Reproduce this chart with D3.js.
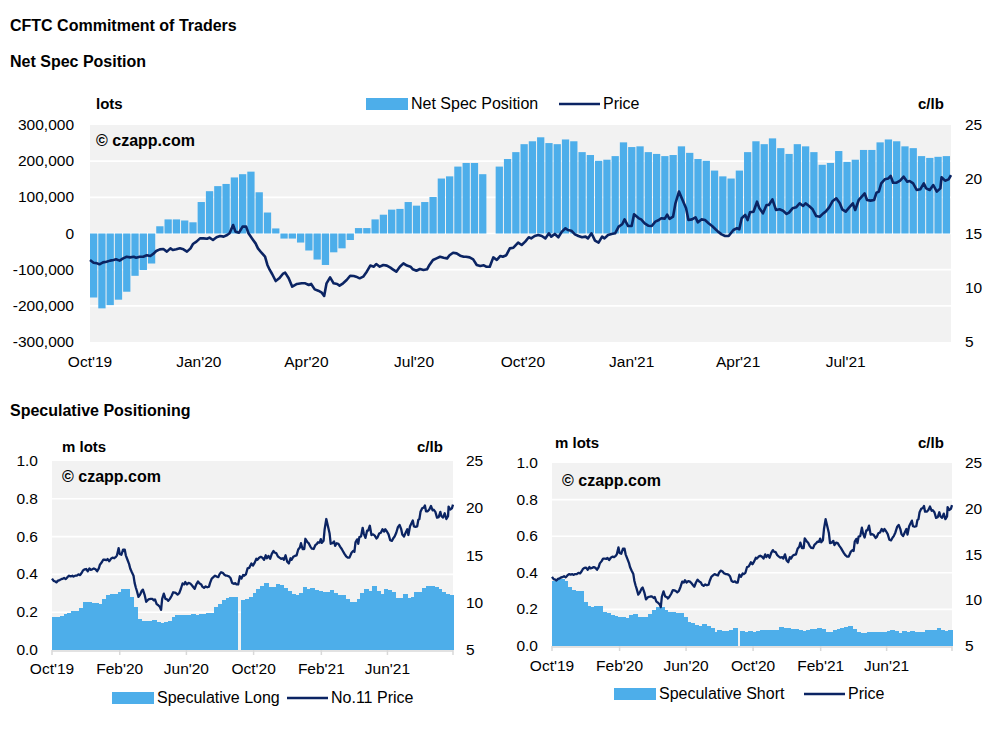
<!DOCTYPE html>
<html><head><meta charset="utf-8">
<script src="https://cdn.jsdelivr.net/npm/d3@7"></script>
<style>body{margin:0;background:#fff;} svg{display:block;font-family:"Liberation Sans",Arial,sans-serif;}</style>
</head><body><svg id="c" width="1008" height="736"></svg>
<script>
// ---------- DATA ----------
const weekStart = "2019-10-01";   // first weekly COT bar (Tuesday)
const domainEnd = "2021-09-28";

// Net speculative position, lots (weekly; null = no report)
const netSpec = [
 -177000,-207000,-198000,-183000,-161000,-117000,-101000,-83000,20000,39000,
 39000,36000,31000,87000,117000,131000,137000,155000,164000,171000,
 114000,58000,14000,-14000,-14000,-25000,-47000,-72000,-87000,-52000,
 -41000,-18000,15000,15000,39000,52000,66000,68000,87000,77000,
 87000,101000,152000,158000,185000,195000,195000,164000,null,185000,
 206000,225000,247000,255000,266000,250000,247000,260000,255000,225000,
 217000,201000,204000,214000,252000,239000,241000,225000,220000,214000,
 217000,241000,223000,206000,201000,174000,158000,152000,174000,225000,
 255000,247000,263000,236000,220000,247000,241000,225000,190000,195000,
 228000,198000,204000,231000,231000,252000,260000,255000,241000,236000,
 214000,209000,212000,214000];

// Speculative long, million lots
const specLong = [
 0.175,0.175,0.182,0.192,0.198,0.206,0.206,0.220,0.254,0.254,
 0.250,0.249,0.243,0.268,0.291,0.296,0.296,0.309,0.323,0.323,
 0.279,0.228,0.166,0.155,0.155,0.155,0.159,0.150,0.145,0.150,
 0.155,0.175,0.185,0.185,0.185,0.185,0.189,0.185,0.190,0.190,
 0.194,0.194,0.228,0.243,0.265,0.273,0.280,0.280,null,0.265,
 0.270,0.279,0.302,0.323,0.339,0.354,0.333,0.333,0.349,0.344,
 0.328,0.312,0.296,0.291,0.302,0.333,0.323,0.328,0.317,0.312,
 0.307,0.307,0.317,0.302,0.291,0.291,0.270,0.254,0.254,0.270,
 0.302,0.323,0.312,0.339,0.312,0.296,0.323,0.317,0.307,0.275,
 0.275,0.296,0.275,0.280,0.307,0.307,0.328,0.339,0.339,0.333,
 0.323,0.307,0.296,0.291];

// Speculative short, million lots
const specShort = [
 0.355,0.364,0.364,0.355,0.324,0.306,0.302,0.302,0.240,0.219,
 0.215,0.220,0.220,0.188,0.179,0.169,0.164,0.157,0.157,0.155,
 0.169,0.175,0.157,0.157,0.157,0.175,0.197,0.211,0.215,0.197,
 0.188,0.184,0.179,0.179,0.157,0.133,0.128,0.115,0.109,0.120,
 0.109,0.100,0.075,0.087,0.082,0.082,0.087,0.097,null,0.082,
 0.075,0.082,0.075,0.082,0.087,0.087,0.087,0.087,0.087,0.104,
 0.098,0.098,0.093,0.093,0.087,0.082,0.087,0.093,0.093,0.098,
 0.093,0.077,0.077,0.087,0.093,0.098,0.104,0.109,0.093,0.077,
 0.071,0.071,0.077,0.077,0.077,0.077,0.077,0.082,0.087,0.082,
 0.071,0.082,0.077,0.082,0.077,0.077,0.077,0.087,0.087,0.087,
 0.098,0.087,0.082,0.087];

// No.11 price, c/lb : days after weekStart, value
const priceDay = [
 0,3,6,8,11,14,17,20,22,25,28,31,34,37,39,42,45,48,51,54,56,59,62,65,68,70,73,76,79,82,85,87,90,93,96,99,101,104,107,110,
 113,116,118,121,123,126,129,132,134,137,140,142,145,148,150,152,154,157,160,163,165,168,171,175,179,182,
 185,187,190,193,196,198,200,203,206,209,211,214,217,220,223,225,228,231,234,237,240,242,245,248,251,254,256,259,262,265,
 268,271,273,276,279,282,285,287,290,293,296,299,302,304,307,310,313,316,318,321,324,327,330,333,335,338,341,344,347,349,
 352,355,358,362,365,368,371,373,376,379,382,385,388,390,393,396,399,402,404,407,410,413,416,419,421,424,427,430,433,435,
 438,441,444,447,450,452,455,458,460,464,466,469,472,475,478,481,483,486,488,490,493,495,498,501,504,506,509,512,514,517,
 520,523,526,528,531,534,537,540,544,547,549,551,554,556,558,561,564,566,569,572,574,577,580,583,586,589,591,594,597,600,
 603,605,608,611,614,617,620,622,625,628,631,634,636,639,642,645,647,650,652,655,657,660,663,665,667,669,672,675,677,679,
 682,685,688,691,693,696,699,702,705,707,710,713,716,719,720,723,726,728];
const priceValue = [
 12.56,12.31,12.25,12.16,12.34,12.40,12.50,12.56,12.62,12.50,12.71,12.86,12.80,12.86,12.77,12.86,12.86,13.00,12.93,13.17,13.39,13.54,13.57,13.33,13.63,13.48,13.54,13.63,13.54,13.33,13.63,14.03,14.25,14.55,14.55,14.52,14.62,14.40,14.65,14.77,
 14.71,14.86,15.02,15.78,15.17,15.08,15.63,15.63,15.02,14.55,14.09,13.63,13.23,12.86,12.10,11.64,11.27,10.62,10.87,11.27,11.39,10.87,10.10,10.35,10.41,10.41,
 10.25,10.35,9.85,9.73,9.55,9.24,10.41,10.96,10.41,10.35,10.20,10.41,10.71,11.11,11.08,11.02,10.87,11.02,11.48,12.04,11.94,12.19,11.94,12.10,12.04,11.85,11.70,11.48,11.94,12.25,
 12.04,11.94,11.70,11.57,11.73,11.64,11.70,12.10,12.56,12.71,12.86,12.77,12.71,13.00,13.23,13.17,12.96,12.86,12.86,12.80,12.62,12.10,12.00,12.07,11.94,11.94,12.80,12.56,12.93,12.86,
 13.00,13.63,13.69,14.16,13.94,14.25,14.65,14.55,14.77,14.86,14.77,14.55,15.02,14.71,14.96,14.65,15.17,15.48,15.32,15.26,14.92,14.77,14.65,14.71,14.55,15.02,14.34,14.16,14.71,14.55,
 14.86,14.96,15.02,15.63,15.85,16.30,15.69,15.69,16.77,16.40,16.30,15.94,15.72,15.69,16.09,16.24,16.40,16.37,16.74,16.34,16.55,17.78,18.86,18.09,17.32,16.24,16.30,16.49,16.03,16.30,
 16.24,15.94,15.69,15.48,15.17,14.92,14.77,14.77,15.32,15.48,15.39,16.40,16.71,16.24,16.95,17.01,17.93,17.32,16.86,17.63,17.63,18.15,17.17,17.23,17.10,16.80,16.92,17.32,17.41,17.78,
 17.54,17.78,17.54,17.23,16.61,16.55,16.86,17.01,17.41,18.00,18.24,17.78,17.23,17.01,17.41,17.78,17.17,18.09,18.33,18.70,18.09,18.03,18.09,18.76,18.86,19.62,19.99,20.08,20.30,19.68,
 19.68,19.87,20.24,19.78,19.84,19.62,19.01,19.07,19.62,19.16,19.01,19.47,18.86,19.16,20.18,19.87,19.99,20.39];

const topTickDates = ["2019-10-01","2020-01-01","2020-04-01","2020-07-01","2020-10-01","2021-01-01","2021-04-01","2021-07-01"];
const smallTickDates = ["2019-10-01","2020-02-01","2020-06-01","2020-10-01","2021-02-01","2021-06-01"];
const lotsTicks = [-300000,-200000,-100000,0,100000,200000,300000];
const lotsGrid = [-200000,-100000,0,100000,200000];
const mLotsTicks = [0,0.2,0.4,0.6,0.8,1.0];
const mLotsGrid = [0.2,0.4,0.6,0.8];
const priceTicks = [5,10,15,20,25];

// ---------- DRAWING ----------
const parse = d3.utcParse("%Y-%m-%d");
const t0 = parse(weekStart), t1 = parse(domainEnd);
const weeks = netSpec.map((_, i) => d3.utcDay.offset(t0, 7 * i));
const price = priceDay.map((d, i) => ({date: d3.utcDay.offset(t0, d), v: priceValue[i]}));
const svg = d3.select("#c");
const BLUE = "#4daeea", NAVY = "#0b2463", BG = "#f2f2f2";
const fmtDate = d3.utcFormat("%b'%y");

function txt(g, x, y, s, o = {}) {
  return g.append("text").attr("x", x).attr("y", y).text(s)
    .attr("font-size", o.size || 15.5).attr("font-weight", o.bold ? "bold" : null)
    .attr("text-anchor", o.anchor || "start").attr("fill", "#000");
}

function chart(o) {
  const g = svg.append("g");
  const x = d3.scaleUtc().domain([t0, t1]).range([o.x0, o.x1]);
  const yL = d3.scaleLinear().domain(o.lDomain).range([o.y1, o.y0]);
  const yR = d3.scaleLinear().domain([5, 25]).range([o.y1, o.y0]);

  g.append("rect").attr("x", o.x0).attr("y", o.y0).attr("width", o.x1 - o.x0)
    .attr("height", o.y1 - o.y0).attr("fill", BG);
  g.selectAll("line.grid").data(o.grid).join("line").attr("class", "grid")
    .attr("x1", o.x0).attr("x2", o.x1).attr("y1", d => yL(d)).attr("y2", d => yL(d))
    .attr("stroke", "#fff").attr("stroke-width", 1.6);

  const bars = o.values.map((v, i) => ({d: weeks[i], v})).filter(d => d.v != null);
  g.selectAll("rect.bar").data(bars).join("rect").attr("class", "bar")
    .attr("x", d => x(d.d))
    .attr("width", d => x(d3.utcDay.offset(d.d, 7)) - x(d.d) - o.gap)
    .attr("y", d => Math.min(yL(d.v), yL(0)))
    .attr("height", d => Math.abs(yL(d.v) - yL(0)))
    .attr("fill", BLUE)
    .attr("shape-rendering", o.crisp ? "crispEdges" : null);

  const line = d3.line().x(d => x(d.date)).y(d => yR(d.v));
  g.append("path").datum(price).attr("d", line).attr("fill", "none")
    .attr("stroke", NAVY).attr("stroke-width", o.lw).attr("stroke-linejoin", "round");

  // left axis labels
  o.lTicks.forEach(v => txt(g, o.lLabelX, yL(v) + 5, o.lFmt(v), {anchor: "end"}));
  // right axis labels
  priceTicks.forEach(v => txt(g, o.rLabelX, yR(v) + 5, String(v)));
  // x labels
  const xt = o.xTicks.map(parse);
  xt.forEach(d => txt(g, x(d), o.xLabelY, fmtDate(d), {anchor: "middle"}));
  if (o.axisLine) {
    g.append("line").attr("x1", o.x0).attr("x2", o.x1).attr("y1", o.y1 + 1).attr("y2", o.y1 + 1)
      .attr("stroke", "#d9d9d9").attr("stroke-width", 1.5);
    g.selectAll("line.tk").data(xt.concat([t1])).join("line").attr("class", "tk")
      .attr("x1", d => x(d)).attr("x2", d => x(d)).attr("y1", o.y1).attr("y2", o.y1 + 5)
      .attr("stroke", "#d9d9d9").attr("stroke-width", 1.5);
  }
  // units + watermark
  txt(g, o.unitLX, o.unitY, o.unitL, {bold: true, size: 15});
  txt(g, o.unitRX, o.unitY, "c/lb", {bold: true, size: 15});
  txt(g, o.x0 + (o.top ? 6 : 10), o.copyY, "© czapp.com", {bold: true, size: 16});
  // legend
  const L = o.legend;
  g.append("rect").attr("x", L.rx).attr("y", L.y - 6).attr("width", 42).attr("height", 12).attr("fill", BLUE);
  txt(g, L.rx + 45, L.y + 5, L.barLabel, {size: 16});
  g.append("line").attr("x1", L.lx).attr("x2", L.lx + 41).attr("y1", L.y).attr("y2", L.y)
    .attr("stroke", NAVY).attr("stroke-width", 2.5);
  txt(g, L.lx + 44, L.y + 5, L.lineLabel, {size: 16});
}

// titles
txt(svg, 10, 31, "CFTC Commitment of Traders", {bold: true, size: 16});
txt(svg, 10, 67, "Net Spec Position", {bold: true, size: 16});
txt(svg, 10, 416, "Speculative Positioning", {bold: true, size: 16});

const fmtLots = v => d3.format(",")(v).replace("\u2212", "-");
const fmtM = d3.format(".1f");

chart({x0: 90, x1: 951, y0: 125, y1: 342, lDomain: [-300000, 300000], grid: lotsGrid,
  values: netSpec, gap: 1, lw: 2.6, lTicks: lotsTicks, lFmt: fmtLots, lLabelX: 74, rLabelX: 965,
  xTicks: topTickDates, xLabelY: 367, axisLine: false, unitL: "lots", unitLX: 96, unitRX: 918,
  unitY: 109, copyY: 146, top: true,
  legend: {rx: 366, y: 104, barLabel: "Net Spec Position", lx: 559, lineLabel: "Price"}});

chart({x0: 52, x1: 453, y0: 461, y1: 650, lDomain: [0, 1], grid: mLotsGrid,
  values: specLong, gap: -1, crisp: true, lw: 2.3, lTicks: mLotsTicks, lFmt: fmtM, lLabelX: 38, rLabelX: 466,
  xTicks: smallTickDates, xLabelY: 674, axisLine: true, unitL: "m lots", unitLX: 62, unitRX: 417,
  unitY: 452, copyY: 482,
  legend: {rx: 112, y: 698, barLabel: "Speculative Long", lx: 287, lineLabel: "No.11 Price"}});

chart({x0: 552, x1: 952, y0: 463, y1: 646, lDomain: [0, 1], grid: mLotsGrid,
  values: specShort, gap: -1, crisp: true, lw: 2.3, lTicks: mLotsTicks, lFmt: fmtM, lLabelX: 538, rLabelX: 965,
  xTicks: smallTickDates, xLabelY: 671, axisLine: true, unitL: "m lots", unitLX: 555, unitRX: 918,
  unitY: 448, copyY: 486,
  legend: {rx: 614, y: 694, barLabel: "Speculative Short", lx: 804, lineLabel: "Price"}});
</script></body></html>
